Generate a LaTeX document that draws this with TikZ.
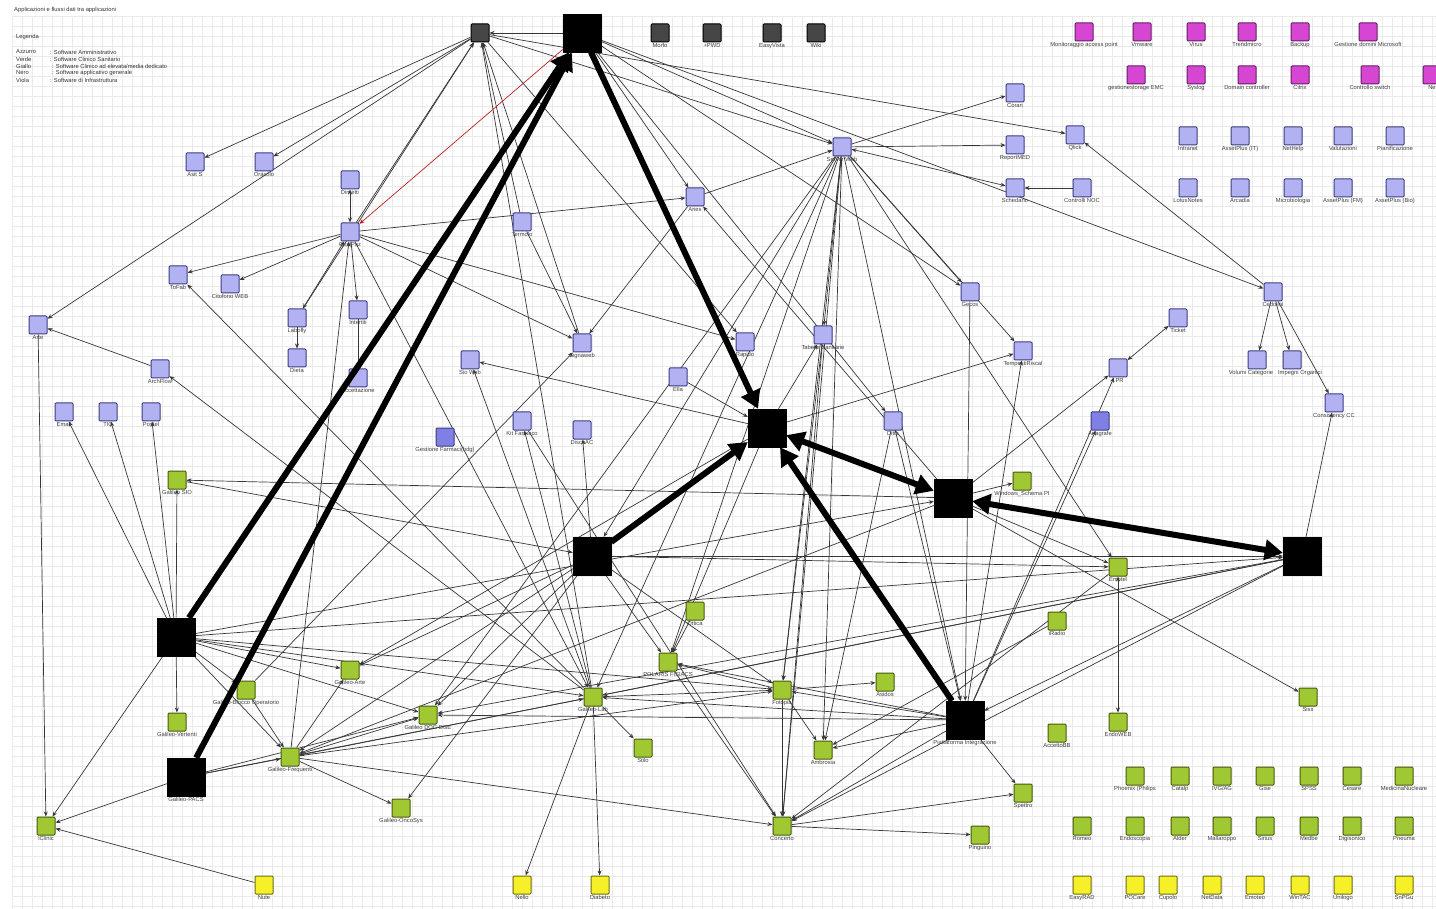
\documentclass[tikz,border=0pt]{standalone}
\usepackage{fontspec}
\setmainfont{Liberation Sans}
\usetikzlibrary{arrows.meta}
\definecolor{bfill}{RGB}{178,178,242}
\definecolor{bdraw}{RGB}{60,60,130}
\definecolor{btfill}{RGB}{128,128,228}
\definecolor{gfill}{RGB}{160,200,50}
\definecolor{gdraw}{RGB}{70,90,15}
\definecolor{yfill}{RGB}{245,240,40}
\definecolor{ydraw}{RGB}{110,110,20}
\definecolor{mfill}{RGB}{215,70,210}
\definecolor{mdraw}{RGB}{100,30,100}
\definecolor{dfill}{RGB}{70,70,70}
\definecolor{gridc}{RGB}{234,234,234}
\definecolor{linec}{RGB}{55,55,55}
\definecolor{redc}{RGB}{190,30,30}
\pgfdeclarelayer{bg}
\pgfdeclarelayer{edges}
\pgfsetlayers{bg,edges,main}
\tikzset{
 box/.style={draw, line width=1pt, minimum size=18pt, inner sep=0pt, rounded corners=1pt},
 nb/.style={box, fill=bfill, draw=bdraw},
 nbt/.style={box, fill=btfill, draw=bdraw},
 ng/.style={box, fill=gfill, draw=gdraw},
 ny/.style={box, fill=yfill, draw=ydraw},
 nm/.style={box, fill=mfill, draw=mdraw},
 nd/.style={box, fill=dfill, draw=black},
 hub/.style={draw=black, fill=black, minimum size=38pt, inner sep=0pt},
 lab/.style={font=\fontsize{5.8}{6}\selectfont, text=black!75, inner sep=1pt},
 every label/.style={lab},
 ln/.style={draw=linec, line width=0.7pt, -{Stealth[length=5pt,width=4pt]}},
 lnb/.style={draw=linec, line width=0.7pt, {Stealth[length=5pt,width=4pt]}-{Stealth[length=5pt,width=4pt]}},
 big/.style={draw=black, line width=6pt, -{Triangle[length=18pt,width=20pt]}},
 bigb/.style={draw=black, line width=6pt, {Triangle[length=18pt,width=20pt]}-{Triangle[length=18pt,width=20pt]}},
 txt/.style={font=\fontsize{5.8}{6}\selectfont, text=black!80, inner sep=0pt, anchor=west},
}
\begin{document}
\begin{tikzpicture}[x=1pt,y=-1pt]
\useasboundingbox (0,0) rectangle (1436,909);
\begin{pgfonlayer}{bg}
\fill[white] (0,0) rectangle (1436,909);
\foreach \x in {12,22,...,1432} \draw[gridc, line width=0.4pt] (\x,16) -- (\x,909);
\foreach \y in {16,26,...,906} \draw[gridc, line width=0.4pt] (12,\y) -- (1436,\y);
\end{pgfonlayer}
% title and legend
\node[txt] (title) at (14,10) {Applicazioni e flussi dati tra applicazioni};
\node[txt] (leg) at (16,37) {Legenda};
\node[txt] (l1) at (16,52) {Azzurro};  \node[txt] (l1b) at (50,52) {: Software Amministrativo};
\node[txt] (l2) at (16,59) {Verde};    \node[txt] (l2b) at (50,59) {: Software Clinico Sanitario};
\node[txt] (l3) at (16,66) {Giallo};   \node[txt] (l3b) at (52,66) {: Software Clinico ad elevata/media dedicato};
\node[txt] (l4) at (16,73) {Nero};     \node[txt] (l4b) at (52,73) {: Software applicativo generale};
\node[txt] (l5) at (16,80) {Viola};    \node[txt] (l5b) at (50,80) {: Software di Infrastruttura};

% hubs
\node[hub] (h1) at (582,33) {};
\node[hub] (h2) at (767,428) {};
\node[hub] (h3) at (953,498) {};
\node[hub] (h4) at (1302,556) {};
\node[hub] (h5) at (592,556) {};
\node[hub] (h6) at (176,637) {};
\node[hub, label=below:Galileo-PACS] (h7) at (186,777) {};
\node[hub, label=below:Piattaforma Integrazione] (h8) at (965,720) {};

% dark gray
\node[nd] (dg0) at (480,33) {};
\node[nd, label=below:Morfo] (morfo) at (660,33) {};
\node[nd, label=below:+PWD] (pwd) at (712,33) {};
\node[nd, label=below:EasyVista] (easy) at (772,33) {};
\node[nd, label=below:Wiki] (wiki) at (816,33) {};

% magenta
\node[nm, label=below:Monitoraggio access point] (m1) at (1084,32) {};
\node[nm, label=below:Vmware] (m2) at (1142,32) {};
\node[nm, label=below:Virus] (m3) at (1196,32) {};
\node[nm, label=below:Trendmicro] (m4) at (1247,32) {};
\node[nm, label=below:Backup] (m5) at (1300,32) {};
\node[nm, label=below:Gestione domini Microsoft] (m6) at (1368,32) {};
\node[nm, label=below:gestionestorage EMC] (m7) at (1136,75) {};
\node[nm, label=below:Syslog] (m8) at (1196,75) {};
\node[nm, label=below:Domain controller] (m9) at (1247,75) {};
\node[nm, label=below:Citrix] (m10) at (1300,75) {};
\node[nm, label=below:Controllo switch] (m11) at (1370,75) {};
\node[nm, label=below:Ne] (m12) at (1432,75) {};

% blue right grid
\node[nb, label=below:Intranet] (r1) at (1188,136) {};
\node[nb, label=below:AssetPlus (IT)] (r2) at (1240,136) {};
\node[nb, label=below:NetHelp] (r3) at (1293,136) {};
\node[nb, label=below:Valutazioni] (r4) at (1343,136) {};
\node[nb, label=below:Pianificazione] (r5) at (1395,136) {};
\node[nb, label=below:LotusNotes] (r6) at (1188,188) {};
\node[nb, label=below:Arcadia] (r7) at (1240,188) {};
\node[nb, label=below:Microbiologia] (r8) at (1293,188) {};
\node[nb, label=below:AssetPlus (FM)] (r9) at (1343,188) {};
\node[nb, label=below:AssetPlus (Bio)] (r10) at (1395,188) {};

% blue
\node[nb, label=below:Asit S] (asit) at (195,162) {};
\node[nb, label=below:Oracolo] (oracolo) at (264,162) {};
\node[nb, label=below:Dimetti] (dimetti) at (350,180) {};
\node[nb, label=below:GestPaz] (gestpaz) at (350,232) {};
\node[nb, label=below:ToFab] (tofab) at (178,275) {};
\node[nb, label=below:Citofono WEB] (citofono) at (230,284) {};
\node[nb, label=below:Termolo] (termolo) at (522,222) {};
\node[nb, label=below:Aries] (aries) at (695,197) {};
\node[nb, label=below:Server Web] (serverweb) at (842,147) {};
\node[nb, label=below:Coran] (coran) at (1015,93) {};
\node[nb, label=below:ReportMED] (reportmed) at (1015,145) {};
\node[nb, label=below:Qlick] (qlick) at (1075,135) {};
\node[nb, label=below:Schedario] (schedario) at (1015,188) {};
\node[nb, label=below:Controlli NOC] (noc) at (1082,188) {};
\node[nb, label=below:Gecos] (gecos) at (970,292) {};
\node[nb, label=below:Labofly] (labofly) at (297,318) {};
\node[nb, label=below:Intertiti] (intertiti) at (358,310) {};
\node[nb, label=below:Dieta] (dieta) at (297,358) {};
\node[nb, label=below:Accettazione] (accett) at (358,378) {};
\node[nb, label=below:Arte] (arte) at (38,325) {};
\node[nb, label=below:ArchFlow] (archflow) at (160,369) {};
\node[nb, label=below:Email] (email) at (64,412) {};
\node[nb, label=below:TIC] (tic) at (108,412) {};
\node[nb, label=below:Postel] (postel) at (151,412) {};
\node[nb, label=below:Signaweb] (signaweb) at (582,343) {};
\node[nb, label=below:Sio Web] (sioweb) at (470,360) {};
\node[nb, label=below:Ella] (ella) at (678,377) {};
\node[nb, label=below:Rapido] (rapido) at (745,342) {};
\node[nb, label=below:Tabelle Sanitarie] (tabelle) at (823,335) {};
\node[nb, label=below:TempestiRiscal] (tempesti) at (1023,351) {};
\node[nb, label=below:LPR] (lpr) at (1118,368) {};
\node[nb, label=below:Ticket] (ticket) at (1178,318) {};
\node[nb, label=below:Cedolini] (cedolini) at (1273,292) {};
\node[nb, label={[xshift=-6pt]below:Volumi Categorie}] (volumi) at (1257,360) {};
\node[nb, label={[xshift=8pt]below:Impegni Organici}] (impegni) at (1292,360) {};
\node[nb, label=below:Consistency CC] (consist) at (1334,403) {};
\node[nb, label=below:Ditta] (ditta) at (893,421) {};
\node[nbt, label=below:Anagrafe] (anagrafe) at (1100,421) {};
\node[nbt, label=below:Gestione Farmaci(bdg)] (gestfarm) at (445,437) {};
\node[nb, label=below:Kit Farmaco] (kit) at (522,421) {};
\node[nb, label=below:DiscoAC] (discoac) at (582,430) {};

% green
\node[ng, label=below:Galileo SIO] (gsio) at (177,480) {};
\node[ng, label=below:Windows\_Schema PI] (winpi) at (1022,481) {};
\node[ng, label=below:Emotel] (emotel) at (1118,567) {};
\node[ng, label=below:iRadio] (iradio) at (1057,621) {};
\node[ng, label=below:Ottica] (ottica) at (695,611) {};
\node[ng, label=below:POLARIS FISIACS] (polaris) at (668,662) {};
\node[ng, label=below:Galileo-Arte] (garte) at (350,670) {};
\node[ng, label=below:Galileo-Blocco Operatorio] (gblocco) at (246,690) {};
\node[ng, label=below:Galileo DOC DGE] (gdoc) at (428,715) {};
\node[ng, label=below:Galileo-Lab] (glab) at (593,697) {};
\node[ng, label=below:Fotopia] (fotopia) at (782,690) {};
\node[ng, label=below:Asidos] (asidos) at (885,682) {};
\node[ng, label=below:Ambrosia] (ambrosia) at (823,750) {};
\node[ng, label=below:Galileo-Vertenti] (gvert) at (177,722) {};
\node[ng, label=below:Galileo-Frequenti] (gfreq) at (290,757) {};
\node[ng, label=below:Stilo] (stilo) at (643,748) {};
\node[ng, label=below:AccettoBB] (accbb) at (1057,733) {};
\node[ng, label=below:EndoWEB] (endoweb) at (1118,722) {};
\node[ng, label=below:Siss] (siss) at (1308,697) {};
\node[ng, label=below:Spettro] (spettro) at (1023,793) {};
\node[ng, label=below:Galileo-OncoSys] (gonco) at (401,808) {};
\node[ng, label=below:Concerto] (concerto) at (782,826) {};
\node[ng, label=below:Pinguino] (pinguino) at (980,835) {};
\node[ng, label=below:iClinic] (iclinic) at (46,826) {};
% green grid
\node[ng, label=below:Phoenix (Philips] (q1) at (1135,776) {};
\node[ng, label=below:Catalp] (q2) at (1180,776) {};
\node[ng, label=below:IVG/AG] (q3) at (1222,776) {};
\node[ng, label=below:Gise] (q4) at (1265,776) {};
\node[ng, label=below:SPSS] (q5) at (1309,776) {};
\node[ng, label=below:Cesare] (q6) at (1352,776) {};
\node[ng, label=below:MedicinaNucleare] (q7) at (1404,776) {};
\node[ng, label=below:Romeo] (q8) at (1082,826) {};
\node[ng, label=below:Endoscopia] (q9) at (1135,826) {};
\node[ng, label=below:Alder] (q10) at (1180,826) {};
\node[ng, label=below:Mallaroppo] (q11) at (1222,826) {};
\node[ng, label=below:Sirius] (q12) at (1265,826) {};
\node[ng, label=below:Medbe] (q13) at (1309,826) {};
\node[ng, label=below:Digisonico] (q14) at (1352,826) {};
\node[ng, label=below:Pneuma] (q15) at (1404,826) {};
% yellow
\node[ny, label=below:Nute] (nute) at (264,885) {};
\node[ny, label=below:Nello] (nello) at (522,885) {};
\node[ny, label=below:Diabeto] (diabeto) at (600,885) {};
\node[ny, label=below:EasyRAD] (y1) at (1082,885) {};
\node[ny, label=below:POCare] (y2) at (1135,885) {};
\node[ny, label=below:Cupolo] (y3) at (1168,885) {};
\node[ny, label=below:NetData] (y4) at (1212,885) {};
\node[ny, label=below:Emoteo] (y5) at (1255,885) {};
\node[ny, label=below:WinTAC] (y6) at (1300,885) {};
\node[ny, label=below:Unilogo] (y7) at (1343,885) {};
\node[ny, label=below:SnPGu] (y8) at (1404,885) {};

% thin connectors
\begin{pgfonlayer}{edges}
\foreach \a/\b in {
 dg0/asit, dg0/oracolo, dg0/arte, termolo/dg0, gestpaz/dg0, labofly/dg0, glab/dg0,
 dg0/qlick, dg0/serverweb, signaweb/dg0, h1/dg0, dg0/rapido,
 h1/serverweb, h1/cedolini, h1/aries, h1/gecos, h1/ditta,
 serverweb/coran, serverweb/reportmed, serverweb/gecos, serverweb/concerto, serverweb/ambrosia,
 serverweb/fotopia, serverweb/h8, serverweb/emotel, serverweb/tabelle, serverweb/glab,
 serverweb/polaris, serverweb/h5, serverweb/gdoc, aries/serverweb, h3/aries, noc/schedario,
 cedolini/qlick, cedolini/volumi, cedolini/impegni, cedolini/consist, h4/consist,
 gestpaz/tofab, gestpaz/citofono, gfreq/gestpaz, intertiti/accett, gestpaz/intertiti,
 gestpaz/signaweb, gestpaz/aries, gestpaz/rapido, gestpaz/glab, termolo/signaweb, aries/signaweb,
 h2/sioweb, glab/sioweb, glab/kit, h5/discoac, gblocco/signaweb, ella/h2, h2/tabelle,
 tabelle/fotopia, h2/tempesti, serverweb/tempesti, h3/lpr, h8/anagrafe, ditta/ambrosia,
 h3/winpi, h3/gsio, h5/h4, h6/h4, h6/h3, h3/siss, h3/gfreq, h4/gdoc, h4/concerto, h4/h8,
 h4/gfreq, emotel/concerto, iradio/ambrosia, h8/concerto, h8/ambrosia, h8/fotopia, h8/spettro,
 h8/gdoc, h8/glab, h8/polaris, h8/lpr, fotopia/concerto, fotopia/ambrosia, fotopia/asidos,
 fotopia/polaris, glab/fotopia, concerto/spettro, concerto/pinguino, polaris/concerto,
 ottica/polaris, h5/polaris, h5/fotopia, h5/gfreq, h5/garte, h5/gdoc, h5/emotel,
 glab/stilo, glab/nello, glab/diabeto, h6/iclinic, h7/iclinic, nute/iclinic, arte/iclinic,
 h6/gsio, h6/gvert, h6/gblocco, h6/gfreq, h6/gdoc, h6/glab, h6/fotopia, h6/garte,
 h6/email, h6/tic, h6/postel, gfreq/gonco, h5/gonco, gfreq/garte, gfreq/gdoc, gfreq/concerto,
 gfreq/fotopia, gblocco/gfreq, h7/gfreq, h7/glab, h7/gdoc, h2/polaris, h2/garte,
 archflow/arte, glab/archflow, glab/tofab, labofly/dieta, h8/tempesti, kit/concerto,
 ditta/h8, gecos/h8, tabelle/concerto, h3/emotel, h4/glab, gsio/h5}
 {\draw[ln] (\a) -- (\b);}
\foreach \a/\b in {dimetti/gestpaz, serverweb/schedario, emotel/endoweb, lpr/ticket, labofly/gestpaz}
 {\draw[lnb] (\a) -- (\b);}
\draw[ln, draw=redc] (h1) -- (gestpaz);
\end{pgfonlayer}
% thick connectors
\draw[big] (h1) -- (h2);
\draw[big] (h6) -- (h1);
\draw[big] (h7) -- (h1);
\draw[big] (h5) -- (h2);
\draw[bigb] (h2) -- (h3);
\draw[bigb] (h3) -- (h4);
\draw[big] (h8) -- (h2);
\end{tikzpicture}
\end{document}
